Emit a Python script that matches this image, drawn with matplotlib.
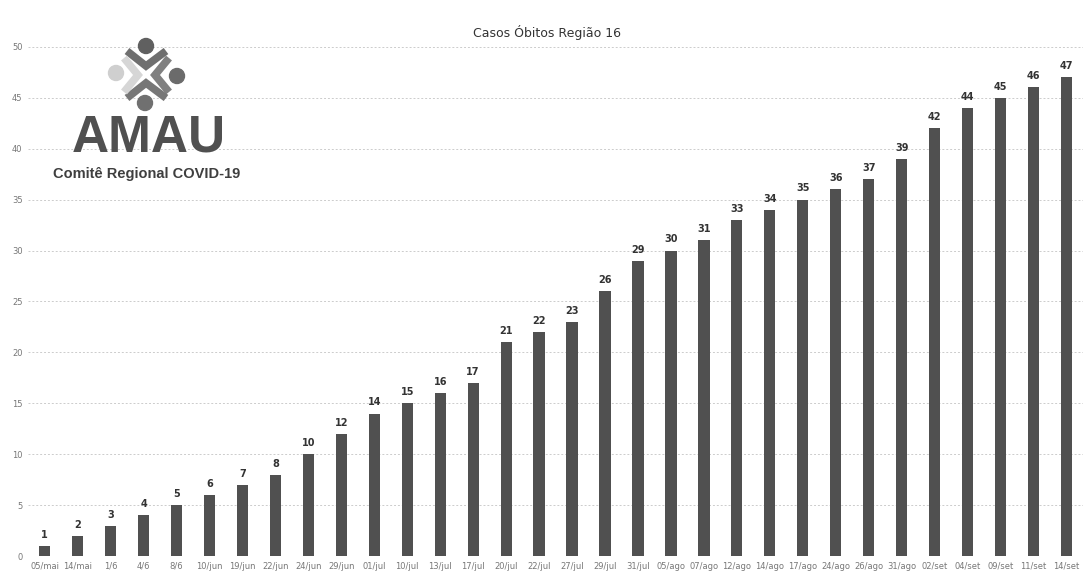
import matplotlib
matplotlib.use('Agg')
import matplotlib.pyplot as plt
from matplotlib.patches import Ellipse
from matplotlib.lines import Line2D

datas = ['05/mai', '14/mai', '1/6', '4/6', '8/6', '10/jun', '19/jun', '22/jun',
         '24/jun', '29/jun', '01/jul', '10/jul', '13/jul', '17/jul', '20/jul', '22/jul',
         '27/jul', '29/jul', '31/jul', '05/ago', '07/ago', '12/ago', '14/ago', '17/ago',
         '24/ago', '26/ago', '31/ago', '02/set', '04/set', '09/set', '11/set', '14/set']
obitos = [1, 2, 3, 4, 5, 6, 7, 8, 10, 12, 14, 15, 16, 17, 21, 22,
          23, 26, 29, 30, 31, 33, 34, 35, 36, 37, 39, 42, 44, 45, 46, 47]
y_ticks = [0, 5, 10, 15, 20, 25, 30, 35, 40, 45, 50]


def desenha_logo(fig):
    """
    Logo AMAU no canto superior esquerdo (coordenadas em pixels da figura)
    """
    W, H = 1083, 577

    def px(x, y):
        return x / W, 1 - y / H

    r = 7.5
    # circulos
    for (cx, cy, cor) in [(146, 46, '#606060'), (177, 76, '#6b6b6b'),
                          (116, 73, '#cfcfcf'), (145, 103, '#707070')]:
        fig.patches.append(Ellipse(px(cx, cy), 2 * r / W, 2 * r / H,
                                   transform=fig.transFigure, color=cor, zorder=5))
    # chevrons
    chevrons = [
        ([127, 146, 166], [51, 66, 51], '#6f6f6f'),   # V
        ([169, 155, 169], [58, 75, 92], '#808080'),   # <
        ([127, 146, 166], [98, 83, 98], '#777777'),   # ^
        ([124, 138, 124], [58, 75, 92], '#d6d6d6'),   # >
    ]
    for xs, ys, cor in chevrons:
        pts = [px(a, b) for a, b in zip(xs, ys)]
        fig.lines.append(Line2D([p[0] for p in pts], [p[1] for p in pts],
                                transform=fig.transFigure, color=cor, lw=5.5,
                                solid_capstyle='butt', solid_joinstyle='miter',
                                zorder=5))
    fig.text(149 / W, 1 - 138 / H, 'AMAU', fontsize=37, color='#505050',
             ha='center', va='center', family='Liberation Sans', fontweight='bold')
    fig.text(147 / W, 1 - 174 / H, 'Comitê Regional COVID-19', fontsize=10.5,
             fontweight='bold', color='#3f3f3f', ha='center', va='center',
             family='Liberation Sans')


def main():
    fig = plt.figure(figsize=(10.83, 5.77), dpi=100)
    ax = fig.add_axes([0.026, 0.036, 0.974, 0.883])

    x = list(range(len(datas)))
    ax.bar(x, obitos, width=0.34, color='#505050', zorder=3)
    for xi, v in zip(x, obitos):
        ax.text(xi, v + 0.6, str(v), ha='center', va='bottom', fontsize=7,
                fontweight='bold', color='#333333')

    ax.set_xlim(-0.5, len(datas) - 0.5)
    ax.set_ylim(0, 50)
    ax.set_yticks(y_ticks)
    ax.set_xticks(x)
    ax.set_xticklabels(datas)
    ax.tick_params(axis='both', length=0, labelsize=6, colors='#777777', pad=4)
    ax.grid(axis='y', linestyle=(0, (2, 2)), color='#cccccc', lw=0.7, zorder=0)
    for s in ax.spines.values():
        s.set_visible(False)

    fig.text(547 / 1083, 1 - 33 / 577, 'Casos Óbitos Região 16', ha='center',
             va='center', fontsize=9, color='#333333')

    desenha_logo(fig)
    fig.savefig('out.png', dpi=100)


if __name__ == '__main__':
    main()
